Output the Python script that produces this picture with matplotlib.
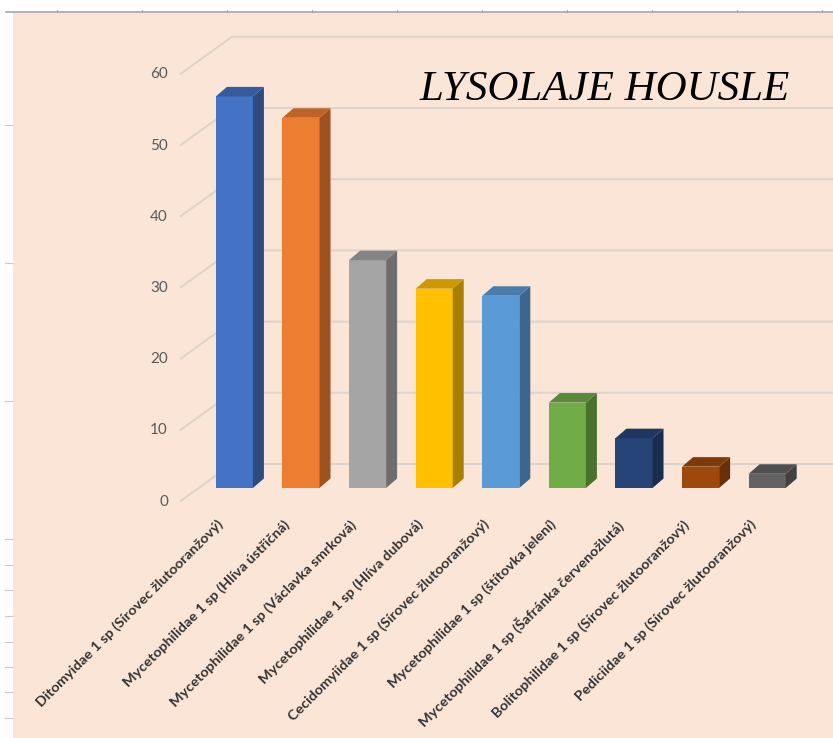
import matplotlib
matplotlib.use("Agg")
import matplotlib.pyplot as plt
from matplotlib.patches import Polygon, Rectangle
from matplotlib.lines import Line2D
import matplotlib.colors as mcolors

# ---- data -------------------------------------------------------------
categories = [
    "Ditomyidae 1 sp (Sírovec žlutooranžový)",
    "Mycetophilidae 1 sp (Hlíva ústřičná)",
    "Mycetophilidae 1 sp (Václavka smrková)",
    "Mycetophilidae 1 sp (Hlíva dubová)",
    "Cecidomyiidae 1 sp (Sírovec žlutooranžový)",
    "Mycetophilidae 1 sp (štítovka jelení)",
    "Mycetophilidae 1 sp (Šafránka červenožlutá)",
    "Bolitophilidae 1 sp (Sírovec žlutooranžový)",
    "Pediciidae 1 sp (Sírovec žlutooranžový)",
]
counts = [55, 52, 32, 28, 27, 12, 7, 3, 2]
bar_colors = ["#4472C4", "#ED7D31", "#A5A5A5", "#FFC000", "#5B9BD5",
              "#70AD47", "#264478", "#9E480E", "#636363"]
y_ticks = [0, 10, 20, 30, 40, 50, 60]
title = "LYSOLAJE HOUSLE"

# ---- figure geometry (pixels) ----------------------------------------
W, H = 833, 738
X0_PX, DX_PX = 234.4, 66.6      # first bar centre, category spacing
Y0_PX, DY_PX = 488.0, 7.12      # floor of bar fronts, pixels per unit
BAR_W = 0.556                   # bar width in category units

BG = "#FBE5D6"
GRID = "#DDD3CB"
TICK_TXT = "#595959"
LABEL_TXT = "#333333"

fig = plt.figure(figsize=(W / 100, H / 100), dpi=100)
fig.patch.set_facecolor("white")

# sheet-like frame around the chart area
fig.patches.append(Rectangle((12.5 / W, 0), 1 - 12.5 / W, 1 - 13 / H,
                             transform=fig.transFigure, facecolor=BG,
                             edgecolor="none", zorder=-10))
fig.lines.append(Line2D([6 / W, 1], [1 - 12 / H, 1 - 12 / H],
                        transform=fig.transFigure, color="#A6A6A6", lw=1.2,
                        zorder=-5))
for xp in range(57, W, 85):
    fig.lines.append(Line2D([xp / W, xp / W], [1 - 12 / H, 1 - 9.5 / H],
                            transform=fig.transFigure, color="#A6A6A6",
                            lw=0.8, zorder=-5))
for yp in [125, 263, 401, 539, 565, 590, 616, 642, 667, 692, 718]:
    fig.lines.append(Line2D([5 / W, 12 / W], [1 - yp / H, 1 - yp / H],
                            transform=fig.transFigure, color="#C8C8C8",
                            lw=0.8, zorder=-5))

ax = fig.add_axes([0, 0, 1, 1])
ax.set_facecolor("none")
ax.set_xlim((0 - X0_PX) / DX_PX, (W - X0_PX) / DX_PX)
ax.set_ylim((Y0_PX - H) / DY_PX, Y0_PX / DY_PX)
ax.axis("off")


def px_x(p):
    return p / DX_PX


def px_y(p):
    return p / DY_PX


# planes of the pseudo-3D box
x_side_front = px_x(180 - X0_PX)
x_side_back = px_x(232 - X0_PX)
y_front_off = px_y(Y0_PX - 501.5)
y_back_off = px_y(Y0_PX - 464.0)
x_right = ax.get_xlim()[1]

for v in y_ticks:
    ax.plot([x_side_front, x_side_back, x_right],
            [v + y_front_off, v + y_back_off, v + y_back_off],
            color=GRID, lw=1.4, zorder=1, solid_capstyle="butt")
    ax.text(px_x(168 - X0_PX), v + y_front_off, str(v), ha="right",
            va="center", fontsize=11, color=TICK_TXT, family="Lato")

# bars: front face from ax.bar, side and top faces as shaded polygons
depth_dx = px_x(11.0)
depth_dy = px_y(9.5)
xs = list(range(len(counts)))


def shade(c, f):
    r, g, b = mcolors.to_rgb(c)
    return (r * f, g * f, b * f)


ax.bar(xs, counts, width=BAR_W, color=bar_colors, zorder=3, linewidth=0)
for x, v, c in zip(xs, counts, bar_colors):
    l, r = x - BAR_W / 2, x + BAR_W / 2
    side = [(r, 0), (r + depth_dx, depth_dy), (r + depth_dx, v + depth_dy), (r, v)]
    top = [(l, v), (r, v), (r + depth_dx, v + depth_dy), (l + depth_dx, v + depth_dy)]
    ax.add_patch(Polygon(side, closed=True, facecolor=shade(c, 0.66),
                         edgecolor="none", zorder=3))
    ax.add_patch(Polygon(top, closed=True, facecolor=shade(c, 0.8),
                         edgecolor="none", zorder=3))

# rotated category labels
for x, name in zip(xs, categories):
    ax.text(x + px_x(-18), px_y(Y0_PX - 518), name, rotation=45,
            rotation_mode="anchor", ha="right", va="top",
            fontsize=10.4, fontweight="bold", color=LABEL_TXT, family="Lato")

# chart title
ax.text(px_x(605 - X0_PX), px_y(Y0_PX - 100), title, ha="center",
        va="baseline", fontsize=31, style="italic", color="black",
        family="Liberation Serif")

fig.savefig("out.png", dpi=100, facecolor=fig.get_facecolor())
